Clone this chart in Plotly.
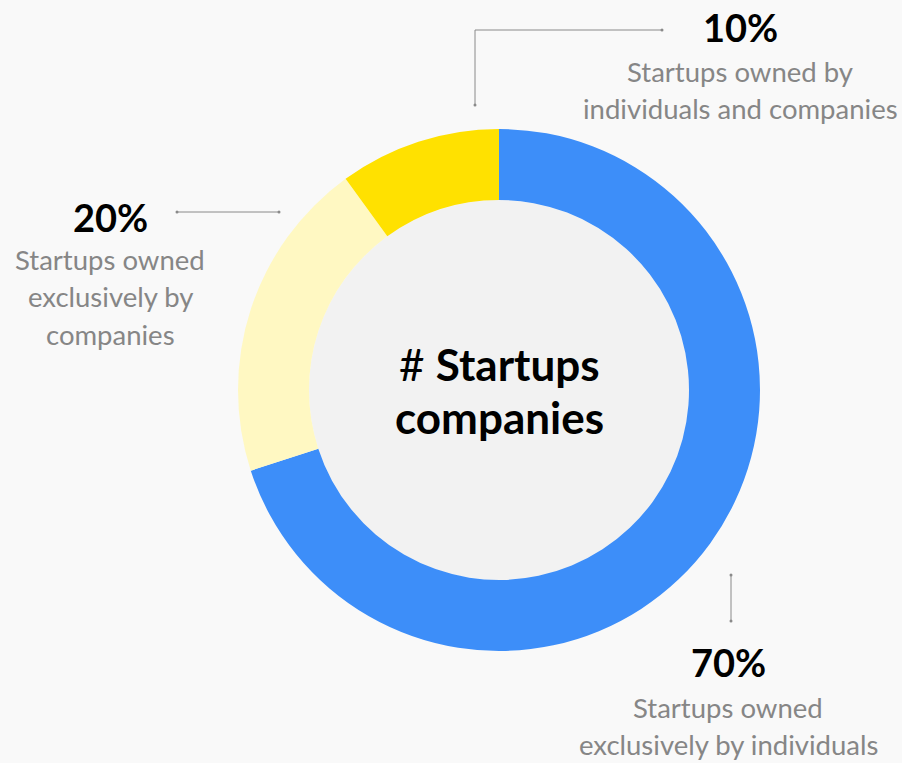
import plotly.graph_objects as go

W, H = 902, 763

labels = [
    "Startups owned exclusively by individuals",
    "Startups owned exclusively by companies",
    "Startups owned by individuals and companies",
]
values = [70, 20, 10]
colors = ["#3d8ef9", "#fff8c2", "#ffe100"]

# label lines as shown next to each slice
label_lines = [
    ["Startups owned", "exclusively by individuals"],
    ["Startups owned", "exclusively by", "companies"],
    ["Startups owned by", "individuals and companies"],
]
center_lines = ["# <b>Startups</b>", "<b>companies</b>"]

FONT = "Lato"
GRAY = "#868686"
LINE = "#8a8a8a"


def fx(x):
    return x / W


def fy(y):
    return 1 - y / H


fig = go.Figure()

fig.add_trace(go.Pie(
    labels=labels,
    values=values,
    sort=False,
    direction="clockwise",
    rotation=0,
    hole=0.728,
    marker=dict(colors=colors, line=dict(width=0)),
    textinfo="none",
    showlegend=False,
    domain=dict(x=[fx(238), fx(760)], y=[fy(651), fy(129)]),
))

annotations = []
# (x center, y of percentage, y of first line)
label_pos = [(728, 662, 707), (110, 217, 259), (740, 27, 71)]
for v, lines, (cx, yp, y0) in zip(values, label_lines, label_pos):
    annotations.append(dict(
        x=fx(cx), y=fy(yp), xref="paper", yref="paper", showarrow=False,
        text=f"<b>{v}%</b>", font=dict(family=FONT, size=38, color="#000000"),
        xanchor="center", yanchor="middle"))
    for i, line in enumerate(lines):
        annotations.append(dict(
            x=fx(cx), y=fy(y0 + i * 37.5), xref="paper", yref="paper", showarrow=False,
            text=line, font=dict(family=FONT, size=27.5, color=GRAY),
            xanchor="center", yanchor="middle"))

for i, line in enumerate(center_lines):
    annotations.append(dict(
        x=fx(499), y=fy(364 + i * 53), xref="paper", yref="paper", showarrow=False,
        text=line, font=dict(family=FONT, size=44, color="#000000"),
        xanchor="center", yanchor="middle"))

shapes = [
    dict(type="circle", xref="paper", yref="paper", layer="below",
         x0=fx(309), x1=fx(689), y0=fy(580), y1=fy(200),
         fillcolor="#f2f2f2", line=dict(width=0)),
]
# leader lines
segments = [
    [(475, 105), (475, 30), (662, 30)],
    [(177, 212), (279, 212)],
    [(731, 575), (731, 621)],
]
for seg in segments:
    for (x0, y0), (x1, y1) in zip(seg[:-1], seg[1:]):
        shapes.append(dict(type="line", xref="paper", yref="paper",
                           x0=fx(x0), y0=fy(y0), x1=fx(x1), y1=fy(y1),
                           line=dict(color=LINE, width=1)))
    for (x, y) in (seg[0], seg[-1]):
        shapes.append(dict(type="circle", xref="paper", yref="paper",
                           x0=fx(x - 1.5), x1=fx(x + 1.5), y0=fy(y + 1.5), y1=fy(y - 1.5),
                           fillcolor=LINE, line=dict(width=0)))

fig.update_layout(
    width=W, height=H,
    margin=dict(l=0, r=0, t=0, b=0),
    paper_bgcolor="#f9f9f9",
    plot_bgcolor="#f9f9f9",
    annotations=annotations,
    shapes=shapes,
)

fig.write_html(
    "out.html",
    config={"displayModeBar": False},
    post_script="document.body.style.margin='0';document.body.style.background='#f9f9f9';",
)
